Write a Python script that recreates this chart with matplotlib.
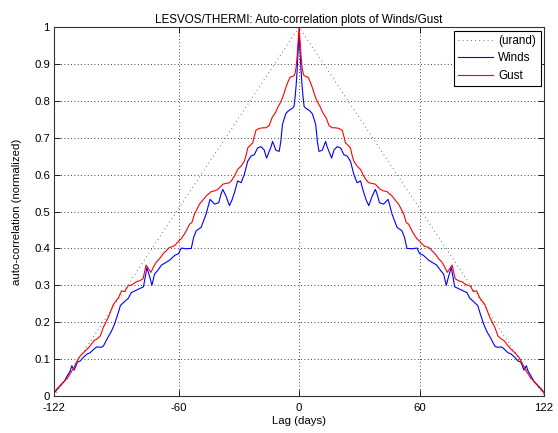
import matplotlib
matplotlib.use("Agg")
import matplotlib.pyplot as plt
import numpy as np

plt.rcParams['font.family'] = ['Liberation Sans', 'DejaVu Sans']

# values (positive lags only, the autocorrelation is symmetric)
winds_lag = [0, 0.5, 1, 1.5, 2, 2.5, 3.3, 4.5, 5.5, 6.6, 7.5, 8.3, 9.1, 9.9, 11, 11.6,
             12.5, 13.2, 14, 14.9, 16.2, 17.4, 19, 20.7, 22.3, 24, 25.6, 27.3, 28.9,
             30.6, 32.2, 33.5, 34.7, 36.4, 38, 39, 40, 42.1, 44.3, 45, 46.3, 48.8,
             51.2, 52.5, 53.7, 56.2, 58.7, 60, 62, 64.5, 66.9, 68.5, 70.5, 72, 73.3,
             74.5, 75.8, 77.5, 79, 81, 83.6, 85, 86.9, 89, 90.1, 91.9, 93.5, 95.3,
             97.5, 98.6, 100.8, 102, 104.1, 105.5, 107.4, 109, 110.4, 112, 113.2,
             114, 115.2, 117, 119, 120.5, 122]
winds_val = [0.985, 0.93, 0.88, 0.84, 0.81, 0.785, 0.78, 0.776, 0.772, 0.765, 0.75,
             0.735, 0.69, 0.663, 0.665, 0.667, 0.68, 0.69, 0.675, 0.663, 0.645, 0.667,
             0.676, 0.672, 0.654, 0.65, 0.636, 0.60, 0.578, 0.583, 0.551, 0.53, 0.516,
             0.542, 0.56, 0.545, 0.524, 0.52, 0.533, 0.52, 0.493, 0.457, 0.448, 0.43,
             0.40, 0.399, 0.401, 0.386, 0.381, 0.368, 0.36, 0.355, 0.34, 0.33, 0.30,
             0.325, 0.348, 0.296, 0.292, 0.287, 0.28, 0.265, 0.256, 0.245, 0.225,
             0.195, 0.175, 0.158, 0.135, 0.132, 0.133, 0.128, 0.117, 0.114, 0.105,
             0.095, 0.092, 0.07, 0.082, 0.068, 0.057, 0.039, 0.027, 0.018, 0.008]

gust_lag = [0, 0.5, 1, 1.5, 2, 2.5, 3.5, 4.5, 5.5, 6.6, 7.5, 8.3, 9.1, 10.4, 11.6, 12.5,
            13.4, 14.9, 16.5, 18.2, 20, 21.5, 22.5, 23.1, 24.3, 25.6, 26.5, 27.3, 28.9,
            30.6, 32.2, 33.5, 34.7, 36.5, 38, 39.5, 40.5, 42, 43.8, 45, 46.3, 48, 49.6,
            51, 52.1, 53.4, 54.5, 56, 57, 58.7, 60, 61.2, 62.8, 64.5, 66, 67.8, 69.5,
            71.1, 72.5, 73.8, 75, 76.2, 77.7, 79.5, 81, 83, 85.3, 86.8, 88.4, 90,
            92.5, 95, 97.5, 99, 100.5, 102.1, 103.5, 105.3, 107.5, 109.5, 111, 112,
            113.5, 115.4, 117, 118.7, 120.5, 122]
gust_val = [1.0, 0.96, 0.92, 0.89, 0.875, 0.868, 0.866, 0.864, 0.852, 0.836, 0.82, 0.808,
            0.797, 0.785, 0.77, 0.762, 0.755, 0.733, 0.727, 0.727, 0.725, 0.72, 0.70,
            0.686, 0.68, 0.672, 0.65, 0.636, 0.623, 0.614, 0.596, 0.585, 0.578, 0.576,
            0.574, 0.565, 0.56, 0.556, 0.554, 0.548, 0.542, 0.53, 0.52, 0.505, 0.493,
            0.47, 0.466, 0.45, 0.44, 0.426, 0.42, 0.412, 0.405, 0.403, 0.395, 0.385,
            0.372, 0.363, 0.35, 0.335, 0.345, 0.355, 0.318, 0.312, 0.31, 0.302, 0.298,
            0.283, 0.285, 0.266, 0.248, 0.213, 0.186, 0.163, 0.155, 0.15, 0.14, 0.128,
            0.117, 0.105, 0.09, 0.078, 0.065, 0.048, 0.04, 0.03, 0.02, 0.01]

urand_lag = [-122, 0, 122]
urand_val = [0, 1, 0]

xticks = [-122, -60, 0, 60, 122]
yticks = [0, 0.1, 0.2, 0.3, 0.4, 0.5, 0.6, 0.7, 0.8, 0.9, 1]
yticklabels = ['0', '0.1', '0.2', '0.3', '0.4', '0.5', '0.6', '0.7', '0.8', '0.9', '1']


def mirror(lag, val):
    lag = np.array(lag)
    val = np.array(val)
    return np.concatenate([-lag[:0:-1], lag]), np.concatenate([val[:0:-1], val])


fig = plt.figure(figsize=(5.58, 4.33), dpi=100)
ax = fig.add_axes([0.097, 0.0855, 0.878, 0.852])

wx, wy = mirror(winds_lag, winds_val)
gx, gy = mirror(gust_lag, gust_val)

ax.plot(urand_lag, urand_val, color='0.25', lw=0.6, linestyle=(0, (1, 4)), label='(urand)')
ax.plot(wx, wy, color='#0000ff', lw=0.8, label='Winds')
ax.plot(gx, gy, color='#ff0000', lw=0.8, label='Gust')

ax.set_xlim(-122, 122)
ax.set_ylim(0, 1)
ax.set_xticks(xticks)
ax.set_xticklabels([str(t) for t in xticks])
ax.set_yticks(yticks)
ax.set_yticklabels(yticklabels)
ax.tick_params(direction='in', top=True, right=True, length=4, width=0.6,
               labelsize=8.2, pad=3)
ax.tick_params(axis='x', pad=5)
ax.grid(True, color='k', lw=0.6, linestyle=(0, (1, 3)))
for s in ax.spines.values():
    s.set_linewidth(0.8)
    s.set_color('0.2')

ax.set_title('LESVOS/THERMI: Auto-correlation plots of Winds/Gust', fontsize=8.4, pad=3)
ax.set_xlabel('Lag (days)', fontsize=8.2, labelpad=2)
ax.set_ylabel('auto-correlation (normalized)', fontsize=8.2, labelpad=9)

leg = ax.legend(loc='upper right', fontsize=8.4, fancybox=False, framealpha=1,
                edgecolor='k', handlelength=3.0, handletextpad=0.4,
                labelspacing=0.45, borderpad=0.4, borderaxespad=0.3)
leg.get_frame().set_linewidth(0.8)

fig.savefig('out.png', dpi=100)
